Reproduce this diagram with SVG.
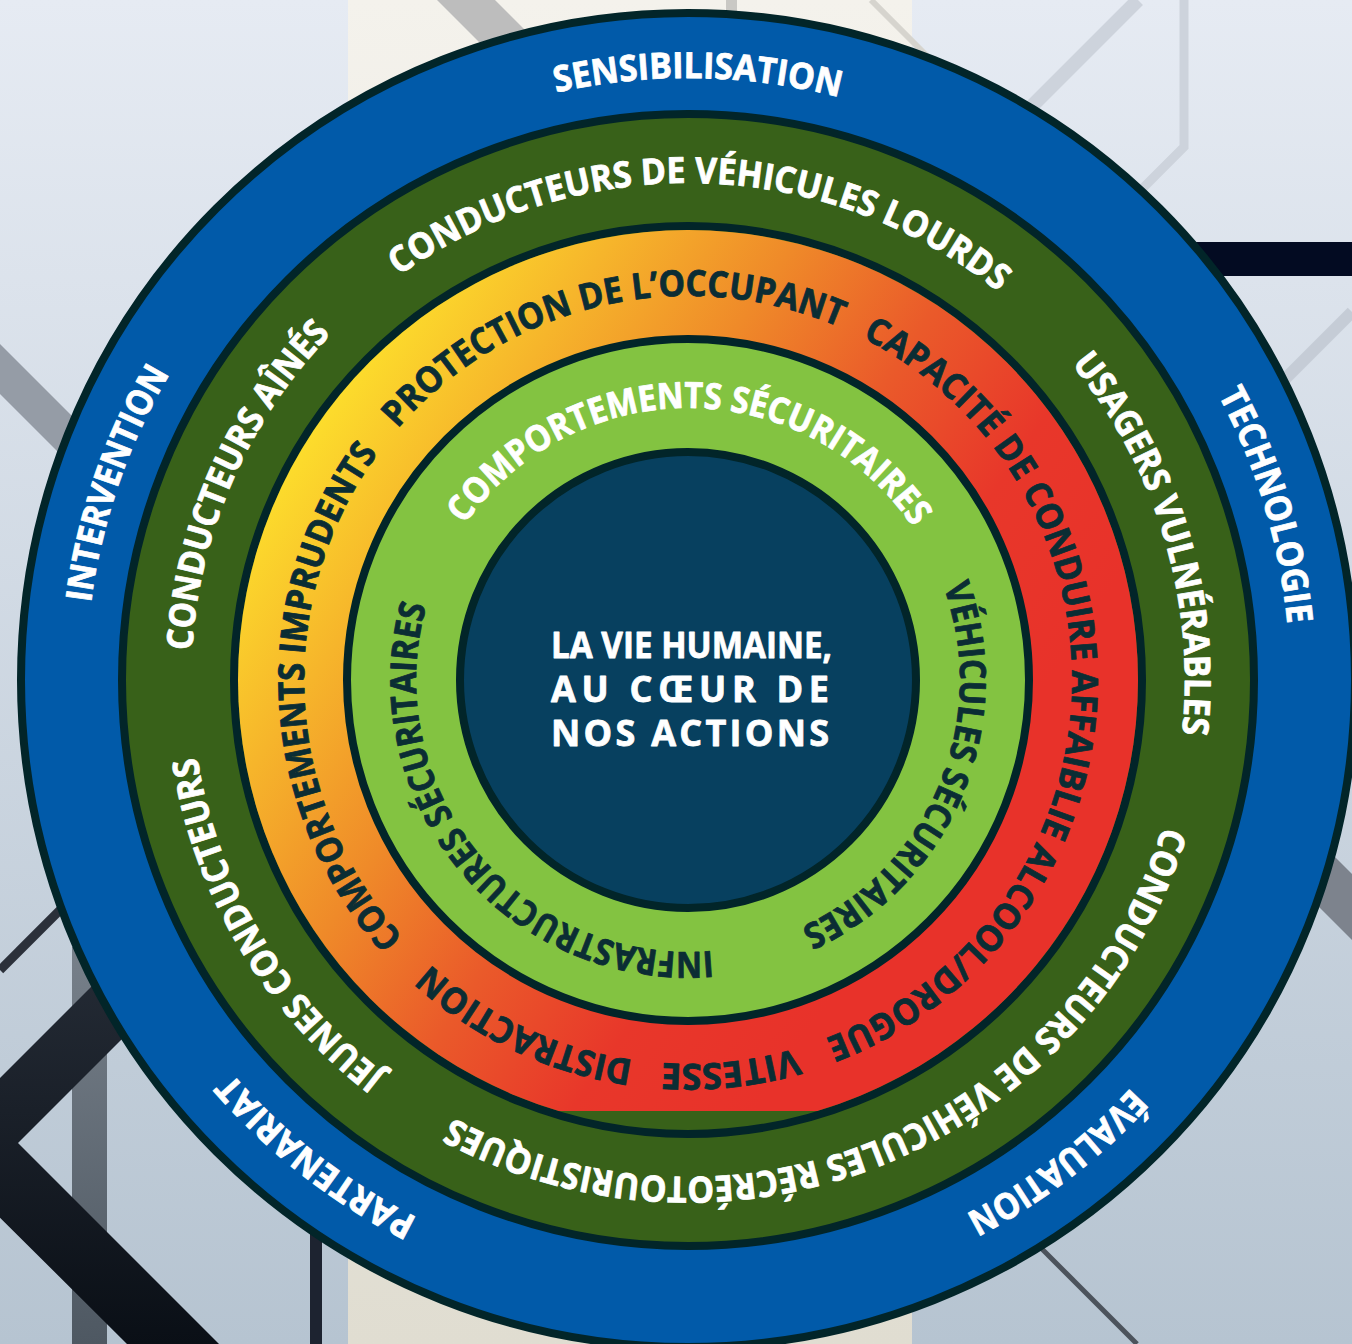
<svg xmlns="http://www.w3.org/2000/svg" width="1352" height="1344" viewBox="0 0 1352 1344">
<defs>
<style>
.t{font-family:"Open Sans","Noto Sans","Liberation Sans",sans-serif;font-weight:700;font-size:36px;stroke-width:0.8px;stroke-linejoin:round}
.w{fill:#ffffff;stroke:#ffffff}
.d{fill:#0b2d34;stroke:#0b2d34}
.ring{stroke:#022529;stroke-width:8}
</style>
<linearGradient id="bg" x1="0" y1="0" x2="0" y2="1">
<stop offset="0" stop-color="#e6ebf3"/>
<stop offset="1" stop-color="#b6c4d1"/>
</linearGradient>
<linearGradient id="cream" x1="0" y1="0" x2="0" y2="1">
<stop offset="0" stop-color="#f4f2ec"/>
<stop offset="1" stop-color="#e0ddd1"/>
</linearGradient>
<linearGradient id="chev" x1="0" y1="0" x2="0" y2="1">
<stop offset="0" stop-color="#2a313c"/>
<stop offset="1" stop-color="#0a0f16"/>
</linearGradient>
<linearGradient id="vbar" x1="0" y1="0" x2="0" y2="1">
<stop offset="0" stop-color="#77808a"/>
<stop offset="1" stop-color="#4e5862"/>
</linearGradient>
<linearGradient id="warm" gradientUnits="userSpaceOnUse" x1="270" y1="470" x2="900" y2="900">
<stop offset="0" stop-color="#fde02c"/>
<stop offset="0.2" stop-color="#f6b52b"/>
<stop offset="0.4" stop-color="#ef8a29"/>
<stop offset="0.6" stop-color="#ea5a2a"/>
<stop offset="0.8" stop-color="#e8372a"/>
<stop offset="1" stop-color="#e8322a"/>
</linearGradient>
<clipPath id="cutBottom"><rect x="0" y="0" width="1352" height="1111"/></clipPath>
<path id="p602" d="M 688 78 A 602 602 0 0 1 688 1282 A 602 602 0 0 1 688 78 A 602 602 0 0 1 688 1282 A 602 602 0 0 1 688 78"/>
<path id="p497" d="M 688 183 A 497 497 0 0 1 688 1177 A 497 497 0 0 1 688 183 A 497 497 0 0 1 688 1177 A 497 497 0 0 1 688 183"/>
<path id="p384" d="M 688 296 A 384 384 0 0 1 688 1064 A 384 384 0 0 1 688 296 A 384 384 0 0 1 688 1064 A 384 384 0 0 1 688 296"/>
<path id="p272" d="M 688 408 A 272 272 0 0 1 688 952 A 272 272 0 0 1 688 408 A 272 272 0 0 1 688 952 A 272 272 0 0 1 688 408"/>
</defs>

<g id="background">
<rect width="1352" height="1344" fill="url(#bg)"/>
<rect x="348" y="0" width="564" height="1344" fill="url(#cream)"/>
<polygon points="437,0 495,0 560,65 502,65" fill="#bdbdbd"/>
<rect x="726" y="0" width="11" height="20" fill="#c9c8c4"/>
<line x1="871" y1="0" x2="930" y2="59" stroke="#d6d4ce" stroke-width="6"/>
<line x1="1138" y1="0" x2="1030" y2="108" stroke="#cdd3dc" stroke-width="14"/>
<polyline points="1184,0 1184,147 1130,201" fill="none" stroke="#cdd3dc" stroke-width="9"/>
<line x1="1352" y1="312" x2="1280" y2="384" stroke="#c5ccd6" stroke-width="12"/>
<rect x="1150" y="242" width="202" height="34" fill="#030b22"/>
<polygon points="1290,812 1352,874 1352,940 1290,878" fill="#7d838d"/>
<line x1="1000" y1="1207" x2="1137" y2="1344" stroke="#4c535c" stroke-width="5"/>
<polygon points="0,344 120,464 120,514 0,394" fill="#959ca6"/>
<line x1="0" y1="970" x2="140" y2="830" stroke="#2b303a" stroke-width="9"/>
<rect x="72" y="947" width="35" height="397" fill="url(#vbar)"/>
<polygon points="-70,1148 200,878 200,961 18,1143 219,1344 127,1344" fill="url(#chev)"/>
<rect x="310" y="1233" width="12" height="111" fill="#1d2330"/>
</g>

<g id="rings">
<circle id="ring-blue" class="ring" cx="688" cy="680" r="667" fill="#015aa9" stroke-width="7"/>
<circle id="ring-darkgreen" class="ring" cx="688" cy="680" r="566" fill="#386119"/>
<circle id="ring-warm-edge" class="ring" cx="688" cy="680" r="454" fill="#386119"/>
<circle id="ring-warm" cx="688" cy="680" r="450" fill="url(#warm)" clip-path="url(#cutBottom)"/>
<circle id="ring-lightgreen" class="ring" cx="688" cy="680" r="341" fill="#83c341"/>
<circle id="core" class="ring" cx="688" cy="680" r="228" fill="#07405f"/>
</g>

<g id="connectors"/>

<g id="node-sensibilisation"><text class="t w"><textPath href="#p602" startOffset="3792" text-anchor="middle" textLength="286" lengthAdjust="spacingAndGlyphs">SENSIBILISATION</textPath></text></g>
<g id="node-technologie"><text class="t w"><textPath href="#p602" startOffset="4551" text-anchor="middle" textLength="241" lengthAdjust="spacingAndGlyphs">TECHNOLOGIE</textPath></text></g>
<g id="node-evaluation"><text class="t w"><textPath href="#p602" startOffset="5280" text-anchor="middle" textLength="210" lengthAdjust="spacingAndGlyphs">ÉVALUATION</textPath></text></g>
<g id="node-partenariat"><text class="t w"><textPath href="#p602" startOffset="2290" text-anchor="middle" textLength="237" lengthAdjust="spacingAndGlyphs">PARTENARIAT</textPath></text></g>
<g id="node-intervention"><text class="t w"><textPath href="#p602" startOffset="3036" text-anchor="middle" textLength="244" lengthAdjust="spacingAndGlyphs">INTERVENTION</textPath></text></g>

<g id="node-lourds"><text class="t w"><textPath href="#p497" startOffset="3135" text-anchor="middle" textLength="644" lengthAdjust="spacingAndGlyphs">CONDUCTEURS DE VÉHICULES LOURDS</textPath></text></g>
<g id="node-usagers"><text class="t w"><textPath href="#p497" startOffset="3758" text-anchor="middle" textLength="397" lengthAdjust="spacingAndGlyphs">USAGERS VULNÉRABLES</textPath></text></g>
<g id="node-recreo"><text class="t w"><textPath href="#p497" startOffset="4489" text-anchor="middle" textLength="877" lengthAdjust="spacingAndGlyphs">CONDUCTEURS DE VÉHICULES RÉCRÉOTOURISTIQUES</textPath></text></g>
<g id="node-jeunes"><text class="t w"><textPath href="#p497" startOffset="2075" text-anchor="middle" textLength="378" lengthAdjust="spacingAndGlyphs">JEUNES CONDUCTEURS</textPath></text></g>
<g id="node-aines"><text class="t w"><textPath href="#p497" startOffset="2547" text-anchor="middle" textLength="353" lengthAdjust="spacingAndGlyphs">CONDUCTEURS AÎNÉS</textPath></text></g>

<g id="node-protection"><text class="t d"><textPath href="#p384" startOffset="2325" text-anchor="middle" textLength="485" lengthAdjust="spacingAndGlyphs">PROTECTION DE L’OCCUPANT</textPath></text></g>
<g id="node-capacite"><text class="t d"><textPath href="#p384" startOffset="3035" text-anchor="middle" textLength="885" lengthAdjust="spacingAndGlyphs">CAPACITÉ DE CONDUIRE AFFAIBLIE ALCOOL/DROGUE</textPath></text></g>
<g id="node-vitesse"><text class="t d"><textPath href="#p384" startOffset="3576" text-anchor="middle" textLength="136" lengthAdjust="spacingAndGlyphs">VITESSE</textPath></text></g>
<g id="node-distraction"><text class="t d"><textPath href="#p384" startOffset="1375" text-anchor="middle" textLength="228" lengthAdjust="spacingAndGlyphs">DISTRACTION</textPath></text></g>
<g id="node-imprudents"><text class="t d"><textPath href="#p384" startOffset="1789" text-anchor="middle" textLength="525" lengthAdjust="spacingAndGlyphs">COMPORTEMENTS IMPRUDENTS</textPath></text></g>

<g id="node-comportements-securitaires"><text class="t w"><textPath href="#p272" startOffset="1710" text-anchor="middle" textLength="527" lengthAdjust="spacingAndGlyphs">COMPORTEMENTS SÉCURITAIRES</textPath></text></g>
<g id="node-vehicules-securitaires"><text class="t d"><textPath href="#p272" startOffset="2243" text-anchor="middle" textLength="406" lengthAdjust="spacingAndGlyphs">VÉHICULES SÉCURITAIRES</textPath></text></g>
<g id="node-infrastructures"><text class="t d"><textPath href="#p272" startOffset="1093" text-anchor="middle" textLength="527" lengthAdjust="spacingAndGlyphs">INFRASTRUCTURES SÉCURITAIRES</textPath></text></g>

<g id="node-center">
<text class="t w" x="551" y="658" textLength="281" lengthAdjust="spacingAndGlyphs">LA VIE HUMAINE,</text>
<text class="t w" x="551" y="702" textLength="278" lengthAdjust="spacing">AU CŒUR DE</text>
<text class="t w" x="551" y="746" textLength="278" lengthAdjust="spacing">NOS ACTIONS</text>
</g>
</svg>
